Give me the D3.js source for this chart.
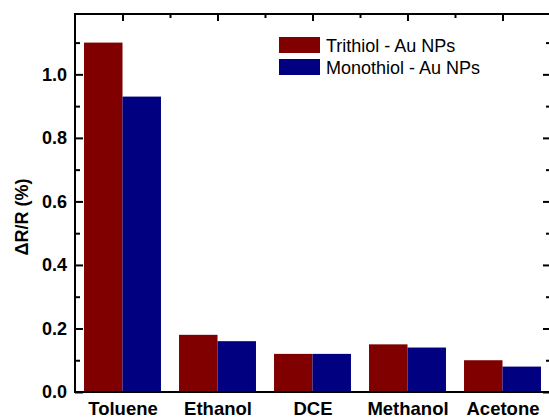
<!DOCTYPE html>
<html>
<head>
<meta charset="utf-8">
<script src="https://cdn.jsdelivr.net/npm/d3@7"></script>
<style>
  html, body { margin: 0; padding: 0; background: #fff; }
  svg { display: block; font-family: "Liberation Sans", Arial, sans-serif; }
</style>
</head>
<body>
<svg id="chart" width="549" height="417"></svg>
<script>
const categories = ["Toluene", "Ethanol", "DCE", "Methanol", "Acetone"];
const seriesNames = ["Trithiol - Au NPs", "Monothiol - Au NPs"];
const trithiol = [1.10, 0.18, 0.12, 0.15, 0.10];
const monothiol = [0.93, 0.16, 0.12, 0.14, 0.08];
const seriesColors = ["#800000", "#000080"];
const yMajorTicks = [0.0, 0.2, 0.4, 0.6, 0.8, 1.0];
const yMinorTicks = [0.1, 0.3, 0.5, 0.7, 0.9, 1.1];
const yLabel = "ΔR/R (%)";

const seriesValues = [trithiol, monothiol];
const mLeft = 75, mRight = 550, mTop = 14, mBottom = 392;
const frameRight = 551;

const svg = d3.select("#chart");

const x0 = d3.scaleBand().domain(categories).range([mLeft, mRight])
  .paddingInner(0.19).paddingOuter(0.095);
const x1 = d3.scaleBand().domain(seriesNames).range([0, x0.bandwidth()]);
const xPoint = d3.scalePoint().domain(categories).range([mLeft, mRight]).padding(0.5);
const xIdx = d3.scaleLinear().domain([-0.5, categories.length - 0.5]).range([mLeft, mRight]);
const y = d3.scaleLinear().domain([0, 1.19]).range([mBottom, mTop]);

// bars
const groups = svg.append("g").selectAll("g")
  .data(categories).join("g")
  .attr("transform", d => `translate(${x0(d)},0)`);
groups.selectAll("rect")
  .data((c, i) => seriesNames.map((s, k) => ({ s, k, v: seriesValues[k][i] })))
  .join("rect")
  .attr("x", d => x1(d.s))
  .attr("width", x1.bandwidth())
  .attr("y", d => y(d.v))
  .attr("height", d => y(0) - y(d.v))
  .attr("fill", d => seriesColors[d.k]);

const tickStyle = g => {
  g.select(".domain").remove();
  g.selectAll(".tick line").attr("stroke", "#000").attr("stroke-width", 2);
};

// left axis
svg.append("g").attr("transform", `translate(${mLeft},0)`)
  .call(d3.axisLeft(y).tickValues(yMajorTicks).tickSize(-8).tickPadding(8)
    .tickFormat(d3.format(".1f")))
  .call(tickStyle)
  .call(g => g.selectAll("text").attr("font-size", 18).attr("font-weight", "bold")
    .attr("fill", "#000").attr("font-family", "Liberation Sans, Arial, sans-serif"));
svg.append("g").attr("transform", `translate(${mLeft},0)`)
  .call(d3.axisLeft(y).tickValues(yMinorTicks).tickSize(-5).tickFormat(""))
  .call(tickStyle);

// right axis
svg.append("g").attr("transform", `translate(${frameRight},0)`)
  .call(d3.axisRight(y).tickValues(yMajorTicks).tickSize(-8).tickFormat(""))
  .call(tickStyle);
svg.append("g").attr("transform", `translate(${frameRight},0)`)
  .call(d3.axisRight(y).tickValues(yMinorTicks).tickSize(-5).tickFormat(""))
  .call(tickStyle);

// top axis
svg.append("g").attr("transform", `translate(0,${mTop})`)
  .call(d3.axisTop(xIdx).tickValues(d3.range(categories.length)).tickSize(-7).tickFormat(""))
  .call(tickStyle);
svg.append("g").attr("transform", `translate(0,${mTop})`)
  .call(d3.axisTop(xIdx).tickValues(d3.range(categories.length - 1).map(i => i + 0.5)).tickSize(-4).tickFormat(""))
  .call(tickStyle);

// bottom axis (labels only)
svg.append("g").attr("transform", `translate(0,${mBottom})`)
  .call(d3.axisBottom(xPoint).tickSize(0).tickPadding(10))
  .call(g => g.select(".domain").remove())
  .call(g => g.selectAll("text").attr("font-size", 18.5).attr("font-weight", "bold")
    .attr("fill", "#000").attr("font-family", "Liberation Sans, Arial, sans-serif"));

// frame
svg.append("rect")
  .attr("x", mLeft).attr("y", mTop)
  .attr("width", frameRight - mLeft).attr("height", mBottom - mTop)
  .attr("fill", "none").attr("stroke", "#000").attr("stroke-width", 2);

// y label
svg.append("text")
  .attr("transform", `translate(28,${(mBottom + mTop) / 2 + 14}) rotate(-90)`)
  .attr("text-anchor", "middle")
  .attr("font-size", 18).attr("font-weight", "bold")
  .text(yLabel);

// legend
const legend = svg.append("g");
seriesNames.forEach((s, k) => {
  const yy = 37 + k * 22;
  legend.append("rect").attr("x", 279).attr("y", yy).attr("width", 41).attr("height", 16)
    .attr("fill", seriesColors[k]);
  legend.append("text").attr("x", 326).attr("y", yy + 15)
    .attr("font-size", 18).attr("fill", "#000").text(s);
});
</script>
</body>
</html>
